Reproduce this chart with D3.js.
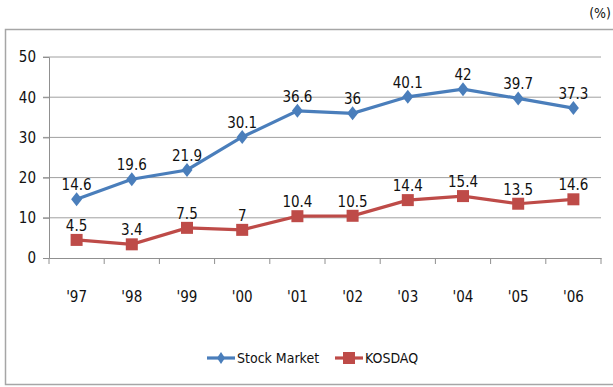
<!DOCTYPE html>
<html>
<head>
<meta charset="utf-8">
<script src="https://cdn.jsdelivr.net/npm/d3@7"></script>
<style>
  body { margin: 0; background: #fff; }
  svg text { font-family: "Liberation Sans Narrow", "DejaVu Sans Condensed", "Roboto Condensed", sans-serif; fill: #111; }
</style>
</head>
<body>
<svg id="chart" width="613" height="387"></svg>
<script>
var years = ["'97", "'98", "'99", "'00", "'01", "'02", "'03", "'04", "'05", "'06"];
var stockMarket = [14.6, 19.6, 21.9, 30.1, 36.6, 36, 40.1, 42, 39.7, 37.3];
var kosdaq = [4.5, 3.4, 7.5, 7, 10.4, 10.5, 14.4, 15.4, 13.5, 14.6];
var yTicks = [0, 10, 20, 30, 40, 50];
var seriesNames = ["Stock Market", "KOSDAQ"];

var svg = d3.select('#chart');

// outer frame
svg.append('rect')
    .attr('x', 5.5).attr('y', 29.5)
    .attr('width', 612).attr('height', 355)
    .attr('fill', 'none')
    .attr('stroke', '#a6a6a6')
    .attr('stroke-width', 1.5);

svg.append('text')
    .attr('x', 611).attr('y', 18)
    .attr('text-anchor', 'end')
    .style('font-size', '14px')
    .text('(%)');

var xRange = d3.scaleBand()
    .domain(years)
    .range([49, 601]);
var yRange = d3.scaleLinear()
    .domain([0, 50])
    .range([258, 57]);

// gridlines
svg.append('g').selectAll('line')
    .data(yTicks.slice(1))
    .enter().append('line')
    .attr('x1', 43).attr('x2', 601)
    .attr('y1', function(d) { return yRange(d); })
    .attr('y2', function(d) { return yRange(d); })
    .attr('stroke', '#a0a0a0')
    .attr('stroke-width', 1);

// y axis
var yAxis = svg.append('g')
    .attr('transform', 'translate(49,0)')
    .call(d3.axisLeft(yRange).tickValues(yTicks).tickSize(6).tickPadding(7));
yAxis.select('.domain').attr('stroke', '#909090');
yAxis.selectAll('.tick line').attr('stroke', '#909090');
yAxis.selectAll('text').style('font-size', '15px').attr('fill', '#111');

// x axis
var xAxis = svg.append('g')
    .attr('transform', 'translate(0,258)')
    .call(d3.axisBottom(xRange).tickSize(0).tickPadding(33));
xAxis.select('.domain').attr('stroke', '#909090');
xAxis.selectAll('text').style('font-size', '15px').attr('fill', '#111');
// tick marks on band edges
svg.append('g').selectAll('line')
    .data(years.concat(['end']))
    .enter().append('line')
    .attr('x1', function(d, i) { return 49 + i * xRange.step(); })
    .attr('x2', function(d, i) { return 49 + i * xRange.step(); })
    .attr('y1', 258).attr('y2', 264)
    .attr('stroke', '#909090');

var lineFunc = d3.line()
    .x(function(d, i) { return xRange(years[i]) + xRange.bandwidth() / 2; })
    .y(function(d) { return yRange(d); });

function drawSeries(values, color, marker) {
    svg.append('path')
        .attr('d', lineFunc(values))
        .attr('stroke', color)
        .attr('stroke-width', 3.2)
        .attr('fill', 'none');
    var g = svg.append('g');
    values.forEach(function(v, i) {
        var cx = xRange(years[i]) + xRange.bandwidth() / 2;
        var cy = yRange(v);
        if (marker === 'diamond') {
            g.append('path')
                .attr('d', 'M' + cx + ',' + (cy - 7) + 'L' + (cx + 5.5) + ',' + cy + 'L' + cx + ',' + (cy + 7) + 'L' + (cx - 5.5) + ',' + cy + 'Z')
                .attr('fill', color);
        } else {
            g.append('rect')
                .attr('x', cx - 6).attr('y', cy - 6)
                .attr('width', 12).attr('height', 12)
                .attr('fill', color);
        }
        g.append('text')
            .attr('x', cx).attr('y', cy - 9)
            .attr('text-anchor', 'middle')
            .style('font-size', '15px')
            .text(v);
    });
}

drawSeries(stockMarket, '#4a7ebb', 'diamond');
drawSeries(kosdaq, '#be4b48', 'square');

// legend
var legend = svg.append('g');
legend.append('line').attr('x1', 207).attr('x2', 235).attr('y1', 358).attr('y2', 358)
    .attr('stroke', '#4a7ebb').attr('stroke-width', 3.2);
legend.append('path').attr('d', 'M221,352L225,358L221,364L217,358Z').attr('fill', '#4a7ebb');
legend.append('text').attr('x', 237).attr('y', 363).style('font-size', '14px').text(seriesNames[0]);
legend.append('line').attr('x1', 335).attr('x2', 363).attr('y1', 358).attr('y2', 358)
    .attr('stroke', '#be4b48').attr('stroke-width', 3.2);
legend.append('rect').attr('x', 343).attr('y', 352).attr('width', 12).attr('height', 12).attr('fill', '#be4b48');
legend.append('text').attr('x', 365).attr('y', 363).style('font-size', '14px').text(seriesNames[1]);
</script>
</body>
</html>
